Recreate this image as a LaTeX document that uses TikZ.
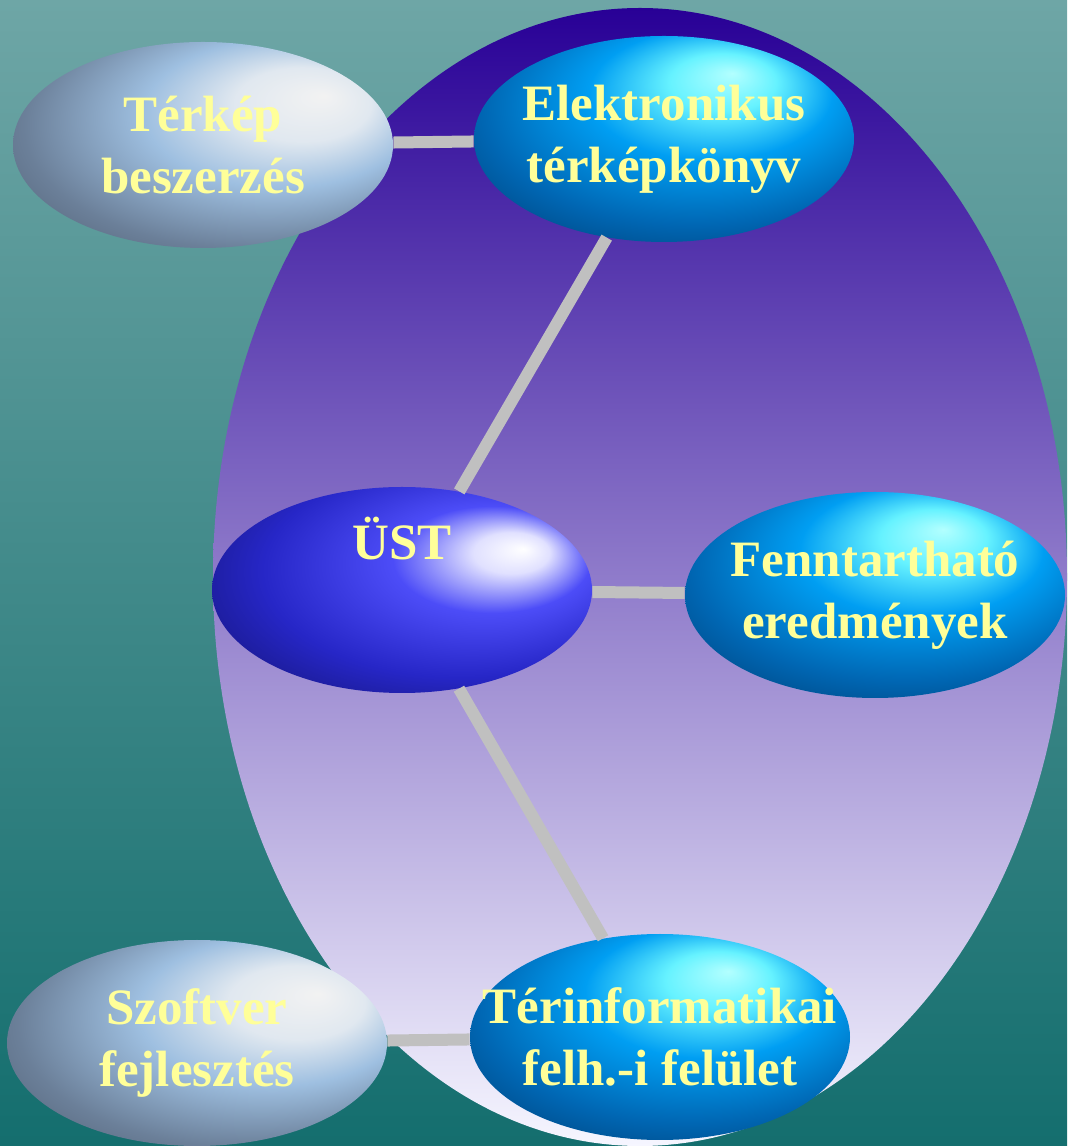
\documentclass[tikz,border=0pt]{standalone}
\usepackage{fontspec}
\setmainfont{Liberation Serif}
\usetikzlibrary{shapes.geometric}

\definecolor{bgtop}{RGB}{110,166,166}
\definecolor{bgbot}{RGB}{20,110,110}
\definecolor{ovaltop}{RGB}{40,0,150}
\definecolor{ovalmid}{RGB}{145,125,205}
\definecolor{ovalbot}{RGB}{246,246,255}
\definecolor{linkgray}{RGB}{192,192,192}
\definecolor{labelyellow}{RGB}{255,255,153}

\pgfdeclareradialshading{aquashade}{\pgfpoint{9bp}{16bp}}{rgb(0bp)=(0.7,1,1); rgb(7bp)=(0.4,0.95,1); rgb(16bp)=(0,0.62,0.95); rgb(28bp)=(0,0.4,0.7); rgb(40bp)=(0,0.22,0.42); rgb(50bp)=(0,0.35,0.62)}
\pgfdeclareradialshading{hubshade}{\pgfpoint{16bp}{10bp}}{rgb(0bp)=(1,1,1); rgb(5bp)=(0.88,0.88,1); rgb(13bp)=(0.3,0.3,0.97); rgb(26bp)=(0.15,0.15,0.78); rgb(40bp)=(0.07,0.07,0.42); rgb(50bp)=(0.1,0.1,0.5)}
\pgfdeclareradialshading{silvershade}{\pgfpoint{16bp}{12bp}}{rgb(0bp)=(0.95,0.95,0.95); rgb(9bp)=(0.88,0.91,0.94); rgb(18bp)=(0.62,0.75,0.88); rgb(30bp)=(0.42,0.5,0.6); rgb(42bp)=(0.28,0.33,0.4); rgb(50bp)=(0.4,0.47,0.55)}

\begin{document}
\begin{tikzpicture}[
    x=0.5pt, y=0.5pt,
    ball/.style={ellipse, minimum width=190pt, minimum height=103pt,
        inner xsep=-30pt, inner ysep=0pt, align=center, text=labelyellow,
        font=\bfseries\fontsize{25.5}{31}\selectfont},
    aquaball/.style={ball, shading=aquashade},
    hubball/.style={ball, shading=hubshade},
    silverball/.style={ball, shading=silvershade},
    link/.style={draw=linkgray, line width=6pt}
]
\useasboundingbox (0,0) rectangle (1067,1146);
\clip (0,0) rectangle (1067,1146);
\shade[top color=bgtop, bottom color=bgbot] (0,0) rectangle (1067,1146);
\shade[top color=ovaltop, middle color=ovalmid, bottom color=ovalbot]
    (640,569) ellipse [x radius=213.5pt, y radius=284.5pt];

\node[silverball] (terkep) at (203,1001) {Térkép\\beszerzés};
\node[aquaball] (atlasz) at (664,1007) {Elektronikus\\térképkönyv};
\node[hubball] (ust) at (402,556) {\raisebox{15pt}[0pt][0pt]{ÜST}};
\node[aquaball] (eredmeny) at (875,551) {Fenntartható\\eredmények};
\node[aquaball] (felulet) at (660,109) {Térinformatikai\\felh.-i felület};
\node[silverball] (szoftver) at (197,103) {Szoftver\\fejlesztés};

\draw[link] (terkep) -- (atlasz);
\draw[link] (ust) -- (atlasz);
\draw[link] (ust) -- (eredmeny);
\draw[link] (ust) -- (felulet);
\draw[link] (szoftver) -- (felulet);
\end{tikzpicture}
\end{document}
